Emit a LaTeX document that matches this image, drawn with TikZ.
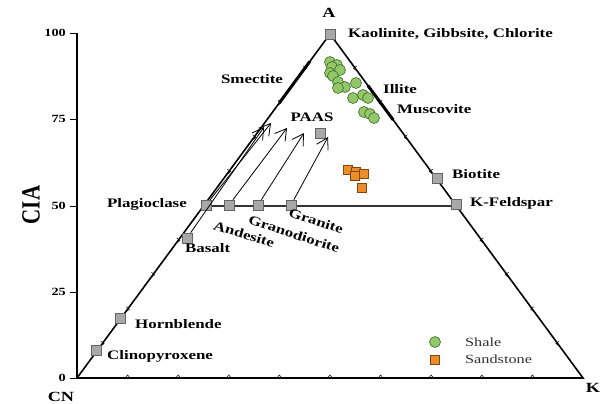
\documentclass[tikz,border=0pt]{standalone}
\usepackage{fontspec}
\setmainfont{Liberation Serif}[FakeStretch=1.3]
\newfontfamily\plainserif{Liberation Serif}
\usetikzlibrary{arrows.meta,calc}
\definecolor{shalefill}{RGB}{146,200,106}
\definecolor{shaledraw}{RGB}{60,105,40}
\definecolor{sandfill}{RGB}{238,140,40}
\definecolor{sanddraw}{RGB}{125,70,20}
\definecolor{rockfill}{RGB}{168,168,168}
\definecolor{rockdraw}{RGB}{100,100,100}
\begin{document}
\begin{tikzpicture}[x=1pt,y=-1pt,
  edge/.style={line width=1.6pt,black},
  tk/.style={line width=0.5pt,black},
  rock/.style={draw=rockdraw,fill=rockfill,minimum size=10pt,inner sep=0pt,line width=0.6pt},
  sand/.style={draw=sanddraw,fill=sandfill,minimum size=9pt,inner sep=0pt,line width=0.6pt},
  shale/.style={circle,draw=shaledraw,fill=shalefill,minimum size=11pt,inner sep=0pt,line width=0.6pt},
  lab/.style={font=\fontsize{13}{15}\selectfont\bfseries,inner sep=0pt},
  num/.style={font=\fontsize{11}{13}\selectfont\bfseries,inner sep=0pt,anchor=east},
  leg/.style={font=\fontsize{12.5}{14}\selectfont,text=black!80,inner sep=0pt,anchor=west},
  arr/.style={-{Straight Barb[length=11pt,width=13pt,line width=0.8pt]},line width=0.8pt}
]
\useasboundingbox (0,0) rectangle (603,404);
\fill[white] (0,0) rectangle (603,404);

% triangle and axis
\coordinate (CN) at (77,378);
\coordinate (K) at (583,378);
\coordinate (A) at (330,34);
\coordinate (ax0) at (77,378);
\coordinate (ax1) at (77,33);
\draw[edge] (ax1) -- (ax0);
\draw[edge] (CN) -- (A) -- (K) -- cycle;
\foreach \yy/\tt in {33/100,119/75,206/50,292/25,378/0}{
  \coordinate (tk\tt) at (70,\yy);
  \draw[line width=0.8pt] (tk\tt) -- ++(7,0);
  \node[num] (n\tt) at (66,\yy) {\tt};
}

% edge ticks
\foreach \k [evaluate=\k as \f using \k/10] in {1,...,9}{
  \coordinate (b\k) at ($(CN)!\f!(K)$);
  \draw[tk] ([shift={(-2.5,0)}]b\k) -- ([shift={(0,-3)}]b\k) -- ([shift={(2.5,0)}]b\k);
  \coordinate (l\k) at ($(CN)!\f!(A)$);
  \draw[tk] ([shift={(-1.5,-2.5)}]l\k) -- ([shift={(1.8,0)}]l\k) -- ([shift={(-1.5,2.5)}]l\k);
  \coordinate (r\k) at ($(K)!\f!(A)$);
  \draw[tk] ([shift={(1.5,-2.5)}]r\k) -- ([shift={(-1.8,0)}]r\k) -- ([shift={(1.5,2.5)}]r\k);
}
\draw[tk] ([shift={(-3,-3)}]A) -- ([shift={(3,3)}]A) ([shift={(3,-3)}]A) -- ([shift={(-3,3)}]A);

% thick mineral segments
\draw[line width=3pt] ($(CN)!0.80!(A)$) -- ($(CN)!0.92!(A)$);
\draw[line width=3pt] ($(K)!0.75!(A)$) -- ($(K)!0.85!(A)$);

% 50% line
\coordinate (p50) at ($(CN)!0.5!(A)$);
\coordinate (k50) at ($(K)!0.5!(A)$);
\draw[line width=1.3pt,black!80] (p50) -- (k50);

% rock points
\node[rock] (kaol) at (330,34) {};
\node[rock] (plag) at (206,205) {};
\node[rock] (ands) at (229,205) {};
\node[rock] (grano) at (258,205) {};
\node[rock] (gran) at (291,205) {};
\node[rock] (kfs) at (456,204) {};
\node[rock] (basalt) at (187,238) {};
\node[rock] (biot) at (437,178) {};
\node[rock] (hbl) at (120,318) {};
\node[rock] (cpx) at (96,350) {};
\node[rock] (paas) at (320,133) {};

% arrows
\coordinate (t1) at (264,127);
\coordinate (t2) at (271,123);
\coordinate (t3) at (287,128);
\coordinate (t4) at (304,133);
\coordinate (t5) at (328,137);
\draw[arr] (basalt) -- (t1);
\draw[arr] (plag) -- (t2);
\draw[arr] (ands) -- (t3);
\draw[arr] (grano) -- (t4);
\draw[arr] (gran) -- (t5);

% shale
\foreach \x/\y [count=\i] in {330/62,337/65,332/67,340/70,330/73,333/76,338/82,345/87,338/88,356/83,353/98,363/95,368/98,364/112,370/114,374/118}{
  \node[shale] (sh\i) at (\x,\y) {};
}
% sandstone
\foreach \x/\y [count=\i] in {348/170,356/172,364/174,355/176,362/188}{
  \node[sand] (ss\i) at (\x,\y) {};
}

% labels
\node[lab,anchor=west] (lkaol) at (348,34) {Kaolinite, Gibbsite, Chlorite};
\node[lab] (lsme) at (252,79) {Smectite};
\node[lab,anchor=west] (lill) at (383,89) {Illite};
\node[lab,anchor=west] (lmus) at (397,109) {Muscovite};
\node[lab] (lpaas) at (312,117) {PAAS};
\node[lab,anchor=west] (lbio) at (452,174) {Biotite};
\node[lab,anchor=west] (lkfs) at (470,203) {K-Feldspar};
\node[lab,anchor=east] (lplag) at (187,204) {Plagioclase};
\node[lab,anchor=west] (lbas) at (185,248) {Basalt};
\node[lab,rotate=-17] (land) at (244,234) {Andesite};
\node[lab,rotate=-18] (lgrd) at (294,234) {Granodiorite};
\node[lab,rotate=-18] (lgra) at (316,221) {Granite};
\node[lab,anchor=west] (lhbl) at (135,324) {Hornblende};
\node[lab,anchor=west] (lcpx) at (107,356) {Clinopyroxene};

% apex labels
\node[font=\fontsize{14}{16}\selectfont\bfseries,inner sep=0pt] (lA) at (329,13) {A};
\node[font=\fontsize{14}{16}\selectfont\bfseries,inner sep=0pt] (lCN) at (61,397) {CN};
\node[font=\fontsize{14}{16}\selectfont\bfseries,inner sep=0pt] (lK) at (593,388) {K};
\node[inner sep=0pt] (lCIA) at (31,205) {\scalebox{1.25}[1]{\rotatebox{90}{\plainserif\bfseries\fontsize{21}{22}\selectfont CIA}}};

% legend
\node[shale] (legsh) at (435,342) {};
\node[leg] (lsh) at (465,342) {Shale};
\node[sand] (legss) at (435,360) {};
\node[leg] (lss) at (465,359) {Sandstone};
\end{tikzpicture}
\end{document}
